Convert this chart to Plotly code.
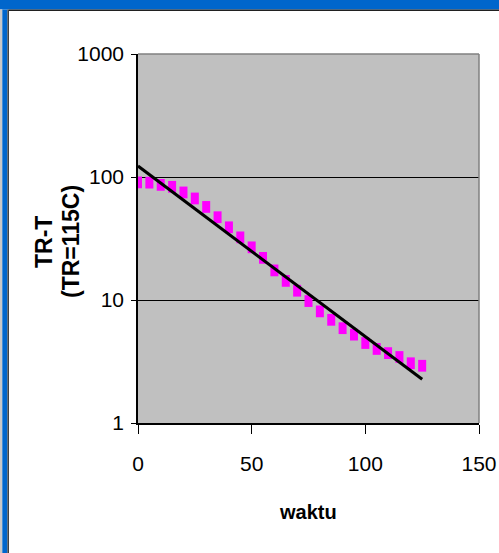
import numpy as np
import plotly.graph_objects as go

# ---- data ----
waktu = [0, 5, 10, 15, 20, 25, 30, 35, 40, 45, 50, 55, 60, 65,
         70, 75, 80, 85, 90, 95, 100, 105, 110, 115, 120, 125]
tr_minus_t = [90.4, 90.0, 86.3, 83.2, 74.9, 66.9, 57.1, 47.1, 39.0, 32.3,
              26.8, 22.0, 17.4, 14.3, 11.9, 9.8, 8.08, 6.9, 5.9, 5.23,
              4.47, 4.0, 3.7, 3.44, 3.06, 2.92]
x_ticks = [0, 50, 100, 150]
y_ticks = [1, 10, 100, 1000]
y_tick_labels = ["1", "10", "100", "1000"]

# exponential trendline (least squares on ln y, like Excel)
b, a = np.polyfit(np.array(waktu, float), np.log(np.array(tr_minus_t)), 1)
trend_y = list(np.exp(a + b * np.array(waktu, float)))

W, H = 499, 553
L, R, T, B = 138, 20, 54, 130
PW, PH = W - L - R, H - T - B


def px(xp):
    return (xp - L) / PW


def py(yp):
    return 1 - (yp - T) / PH


fig = go.Figure()
fig.add_trace(go.Scatter(
    x=waktu, y=tr_minus_t, mode="markers",
    marker=dict(symbol="line-ns", size=8.4, color="#FF00FF",
                line=dict(color="#FF00FF", width=8)),
    showlegend=False, hoverinfo="x+y"))
fig.add_trace(go.Scatter(
    x=waktu, y=trend_y, mode="lines",
    line=dict(color="black", width=3),
    showlegend=False, hoverinfo="skip"))

font_main = "Liberation Sans Narrow, Arial Narrow, Liberation Sans, Arial, sans-serif"

shapes = [
    dict(type="rect", xref="paper", yref="paper", x0=px(0), x1=px(W), y0=py(0), y1=py(9.5),
         fillcolor="#0066CC", line=dict(width=0), layer="below"),
    dict(type="rect", xref="paper", yref="paper", x0=px(9), x1=px(W), y0=py(9.5), y1=py(11),
         fillcolor="#202020", line=dict(width=0), layer="below"),
    dict(type="rect", xref="paper", yref="paper", x0=px(0), x1=px(2.3), y0=py(9.5), y1=py(H),
         fillcolor="#C8C8C8", line=dict(width=0), layer="below"),
    dict(type="rect", xref="paper", yref="paper", x0=px(2.3), x1=px(7.4), y0=py(9.5), y1=py(H),
         fillcolor="#0066CC", line=dict(width=0), layer="below"),
    dict(type="rect", xref="paper", yref="paper", x0=px(7.4), x1=px(9), y0=py(9.5), y1=py(H),
         fillcolor="#404040", line=dict(width=0), layer="below"),
    dict(type="line", xref="paper", yref="paper", x0=0, x1=1, y0=1, y1=1,
         line=dict(color="#808080", width=1.5), layer="above"),
    dict(type="line", xref="paper", yref="paper", x0=1, x1=1, y0=0, y1=1,
         line=dict(color="#808080", width=1.5), layer="above"),
]

annotations = [
    dict(text="<b>waktu</b>", xref="paper", yref="paper", x=px(308), y=py(512),
         showarrow=False, font=dict(family=font_main, size=20, color="black"),
         xanchor="center", yanchor="middle"),
    dict(text="<b>TR-T</b>", xref="paper", yref="paper", x=px(44), y=py(242),
         showarrow=False, textangle=-90,
         font=dict(family="Liberation Sans, Arial, sans-serif", size=23, color="black"),
         xanchor="center", yanchor="middle"),
    dict(text="<b>(TR=115C)</b>", xref="paper", yref="paper", x=px(71), y=py(242),
         showarrow=False, textangle=-90,
         font=dict(family="Liberation Sans, Arial, sans-serif", size=23, color="black"),
         xanchor="center", yanchor="middle"),
]

fig.update_layout(
    width=W, height=H,
    margin=dict(l=L, r=R, t=T, b=B, pad=0),
    paper_bgcolor="white", plot_bgcolor="#C0C0C0",
    shapes=shapes, annotations=annotations,
    xaxis=dict(range=[0, 150], tickvals=x_ticks, ticks="outside", ticklen=9,
               tickcolor="black", showgrid=False, zeroline=False,
               showline=True, linecolor="black", linewidth=1.5,
               ticklabelstandoff=12, automargin=False,
               tickfont=dict(family=font_main, size=21, color="black")),
    yaxis=dict(type="log", range=[0, 3], tickvals=y_ticks, ticktext=y_tick_labels,
               ticks="outside", ticklen=5, tickcolor="black",
               showgrid=True, gridcolor="black", gridwidth=1, zeroline=False,
               showline=True, linecolor="black", linewidth=1.5,
               ticklabelstandoff=3, automargin=False,
               tickfont=dict(family=font_main, size=21, color="black")),
)

fig.write_html(
    "out.html", config={"displayModeBar": False},
    post_script=("document.documentElement.style.overflow='hidden';"
                 "document.body.style.overflow='hidden';"
                 "document.body.style.margin='0';"))
